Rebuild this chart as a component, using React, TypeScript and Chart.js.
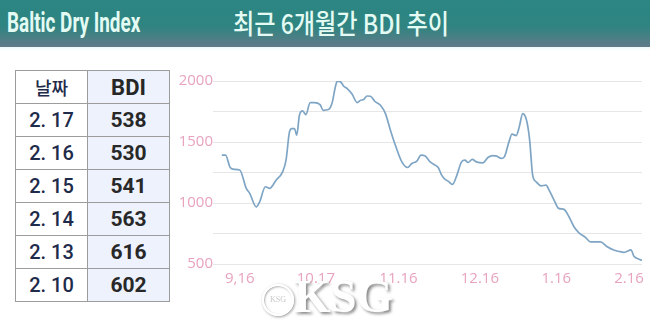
import React, { useEffect, useRef } from "react";
import { Chart, registerables } from "chart.js";

Chart.register(...registerables);

// Table data
const tableDates = ["2. 17", "2. 16", "2. 15", "2. 14", "2. 13", "2. 10"];
const tableValues = [538, 530, 541, 563, 616, 602];

// Line data (approximate trading-day index, BDI value)
const dayIndex = [
  0, 1.0, 2.1, 2.9, 4.7, 6.4, 7.3, 9.0, 9.9, 11.4, 12.5, 14.2, 15.9, 16.8, 17.7, 18.3, 19.0, 19.6,
  20.3, 21.1, 22.0, 23.1, 24.2, 25.7, 26.5, 27.9, 28.8, 29.8, 30.2, 31.1, 31.9, 32.8, 34.1, 35.4,
  36.3, 37.1, 38.0, 38.9, 40.0, 41.5, 42.8, 44.1, 45.4, 47.1, 48.6, 49.7, 51.0, 52.1, 53.2, 54.5,
  55.8, 56.6, 57.5, 58.4, 59.2, 60.3, 61.4, 62.7, 63.6, 64.4, 65.5, 66.6, 68.3, 69.6, 70.9, 71.9,
  73.1, 73.9, 75.1, 75.9, 77.0, 77.8, 78.7, 79.7, 80.5, 81.3, 82.2, 83.5, 84.8, 85.6, 86.9, 88.1,
  89.5, 90.8, 92.1, 93.4, 95.1, 96.4, 99.0, 100.8, 102.5, 104.2, 105.1, 105.9, 107.0, 107.8, 109.0,
  109.9,
];
const bdiValues = [
  1392, 1392, 1296, 1277, 1270, 1120, 1079, 969, 1010, 1133, 1120, 1187, 1255, 1351, 1583, 1610, 1610, 1556,
  1719, 1755, 1725, 1823, 1823, 1807, 1760, 1766, 1815, 1965, 1998, 1992, 1957, 1938, 1891, 1823,
  1842, 1848, 1877, 1875, 1834, 1801, 1733, 1597, 1474, 1337, 1291, 1324, 1343, 1392, 1386, 1337,
  1310, 1291, 1228, 1193, 1179, 1152, 1220, 1337, 1351, 1332, 1357, 1337, 1329, 1373, 1389, 1384,
  1365, 1378, 1501, 1564, 1553, 1624, 1733, 1678, 1520, 1228, 1174, 1141, 1146, 1106, 1024, 956,
  948, 887, 805, 756, 718, 682, 682, 642, 615, 601, 596, 602, 616, 563, 541,
  530,
];

const xTickPositions = [4.7, 24.6, 46.2, 67.5, 87.5, 106.5];
const xTickLabels = ["9,16", "10.17", "11.16", "12.16", "1.16", "2.16"];
const yTickStep = 250;
const yLabelStep = 500;

function LineChart() {
  const ref = useRef<HTMLCanvasElement | null>(null);
  useEffect(() => {
    if (!ref.current) return;
    const tickColor = "#e8a3bf";
    const chart = new Chart(ref.current, {
      type: "line",
      data: {
        datasets: [
          {
            data: dayIndex.map((x, i) => ({ x, y: bdiValues[i] })),
            borderColor: "#7fa5c5",
            borderWidth: 1.7,
            pointRadius: 0,
            tension: 0.4,
            cubicInterpolationMode: "monotone",
            fill: false,
          },
        ],
      },
      options: {
        animation: false,
        responsive: false,
        maintainAspectRatio: false,
        plugins: { legend: { display: false }, tooltip: { enabled: false } },
        layout: { padding: { top: 21, right: 5, left: 0, bottom: 0 } },
        scales: {
          x: {
            type: "linear",
            min: -2.3,
            max: 109.9,
            grid: { display: false, drawTicks: false, tickLength: 0 },
            border: { display: false },
            afterBuildTicks: (s: any) => {
              s.ticks = xTickPositions.map((v) => ({ value: v }));
            },
            afterFit: (s: any) => {
              s.height = 56;
            },
            ticks: {
              autoSkip: false,
              maxRotation: 0,
              padding: 6,
              color: tickColor,
              font: { family: '"Open Sans", sans-serif', size: 15 },
              callback: (v: any) => {
                const i = xTickPositions.indexOf(Number(v));
                return i >= 0 ? xTickLabels[i] : "";
              },
            },
          },
          y: {
            min: 500,
            max: 2000,
            grid: { color: "#e6e6e6", drawTicks: false, lineWidth: 1 },
            border: { display: false },
            afterFit: (s: any) => {
              s.width = 38;
            },
            ticks: {
              stepSize: yTickStep,
              padding: 0,
              color: tickColor,
              font: { family: '"Open Sans", sans-serif', size: 15 },
              callback: (v: any) => (Number(v) % yLabelStep === 0 ? String(v) : ""),
            },
          },
        },
      },
    } as any);
    return () => chart.destroy();
  }, []);
  return (
    <canvas
      ref={ref}
      width={475}
      height={260}
      style={{ position: "absolute", left: 175, top: 60, width: 475, height: 260 }}
    />
  );
}

export default function App() {
  const border = "1px solid #9c9c9c";
  const rowH = 33;
  return (
    <div
      style={{
        position: "fixed",
        left: 0,
        top: 0,
        width: 650,
        height: 320,
        overflow: "hidden",
        background: "#ffffff",
        fontFamily: '"Noto Sans", sans-serif',
      }}
    >
      {/* header band */}
      <div
        style={{
          position: "absolute",
          left: 0,
          top: 0,
          width: 650,
          height: 47,
          background: "linear-gradient(to bottom, #2c8683 0%, #2e8481 55%, #4a7f85 80%, #5f7b8a 100%)",
        }}
      />
      <div
        style={{
          position: "absolute",
          left: 0,
          top: 47,
          width: 650,
          height: 4,
          background: "linear-gradient(to bottom, #eef9f9, #ffffff)",
        }}
      />
      <div
        style={{
          position: "absolute",
          left: 7,
          top: 5,
          color: "#e4fbf4",
          fontFamily: 'Roboto, sans-serif',
          fontWeight: 700,
          fontSize: 27,
          lineHeight: "36px",
          whiteSpace: "nowrap",
          transform: "scaleX(0.70)",
          transformOrigin: "left center",
        }}
      >
        Baltic Dry Index
      </div>
      <div
        style={{
          position: "absolute",
          left: 233,
          top: 4,
          color: "#e4fbf4",
          fontFamily: '"Noto Sans CJK KR", sans-serif',
          fontWeight: 500,
          fontSize: 27,
          lineHeight: "38px",
          whiteSpace: "nowrap",
          transform: "scaleX(0.855)",
          transformOrigin: "left center",
        }}
      >
        최근 6개월간 BDI 추이
      </div>

      {/* table */}
      <table
        style={{
          position: "absolute",
          left: 15,
          top: 70,
          borderCollapse: "collapse",
          border: border,
          tableLayout: "fixed",
        }}
      >
        <tbody>
          <tr style={{ height: rowH }}>
            <td
              style={{
                width: 71,
                border,
                padding: 0,
                textAlign: "center",
                color: "#1f2b4a",
                fontFamily: '"Noto Sans CJK KR", sans-serif',
                fontSize: 18,
                fontWeight: 500,
                background: "#ffffff",
              }}
            >
              날짜
            </td>
            <td
              style={{
                width: 81,
                border,
                padding: 0,
                textAlign: "center",
                color: "#262626",
                fontFamily: "Roboto, sans-serif",
                fontSize: 22,
                fontWeight: 700,
                background: "#edf2fc",
              }}
            >
              BDI
            </td>
          </tr>
          {tableDates.map((d, i) => (
            <tr key={d} style={{ height: rowH }}>
              <td
                style={{
                  border,
                  padding: 0,
                  textAlign: "center",
                  color: "#1f2b4a",
                  fontFamily: "Roboto, sans-serif",
                  fontSize: 20,
                  fontWeight: 500,
                  background: "#ffffff",
                }}
              >
                {d}
              </td>
              <td
                style={{
                  border,
                  padding: 0,
                  textAlign: "center",
                  color: "#282828",
                  fontFamily: "Roboto, sans-serif",
                  fontSize: 21,
                  fontWeight: 700,
                  background: "#edf2fc",
                }}
              >
                {tableValues[i]}
              </td>
            </tr>
          ))}
        </tbody>
      </table>

      <LineChart />

      {/* watermark */}
      <div
        style={{
          position: "absolute",
          left: 262,
          top: 284,
          width: 28,
          height: 28,
          borderRadius: "50%",
          border: "2px solid #ffffff",
          boxShadow: "1px 1px 3px #9a9a9a, inset 1px 1px 2px #b0b0b0",
          color: "#c8c8c8",
          fontFamily: '"Liberation Serif", serif',
          fontSize: 8,
          lineHeight: "28px",
          textAlign: "center",
          background: "rgba(255,255,255,0.85)",
        }}
      >
        KSG
      </div>
      <div
        style={{
          position: "absolute",
          left: 294,
          top: 272,
          color: "#ffffff",
          fontFamily: '"Liberation Serif", serif',
          fontWeight: 700,
          fontSize: 46,
          lineHeight: "50px",
          whiteSpace: "nowrap",
          textShadow: "2px 2px 3px #8a8a8a",
          transform: "scaleX(1.02)",
          transformOrigin: "left center",
        }}
      >
        KSG
      </div>
    </div>
  );
}
